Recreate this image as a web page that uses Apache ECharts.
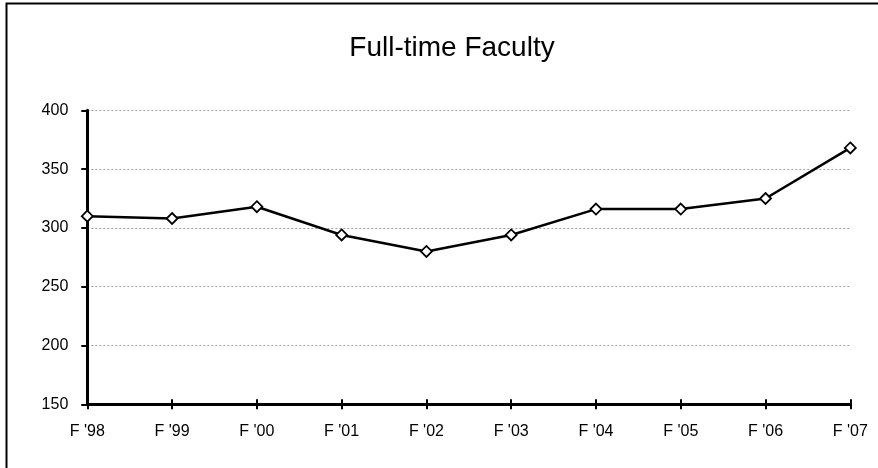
<!DOCTYPE html>
<html>
<head>
<meta charset="utf-8">
<script src="https://cdn.jsdelivr.net/npm/echarts@6/dist/echarts.min.js"></script>
<style>
  html, body { margin: 0; padding: 0; background: #fff; }
  #chart { width: 878px; height: 468px; }
</style>
</head>
<body>
<div id="chart"></div>
<script>
// Fall headcount of full-time faculty, 1998-2007
const years = ["F '98", "F '99", "F '00", "F '01", "F '02", "F '03", "F '04", "F '05", "F '06", "F '07"];
const faculty = [310, 308, 318, 294, 280, 294, 316, 316, 325, 368];
const yMin = 150;
const yMax = 400;
const yStep = 50;

const font = "'Liberation Sans', Arial, sans-serif";
const chart = echarts.init(document.getElementById('chart'));

chart.setOption({
  animation: false,
  backgroundColor: '#fff',
  title: {
    text: 'Full-time Faculty',
    left: 447,
    textAlign: 'center',
    top: 29,
    textStyle: { fontFamily: font, fontSize: 28, fontWeight: 'normal', color: '#000' }
  },
  graphic: [{
    type: 'rect',
    shape: { x: 6.5, y: 3.5, width: 1000, height: 600 },
    style: { fill: 'none', stroke: '#000', lineWidth: 2 },
    silent: true,
    z: 0
  }],
  grid: { left: 87.3, right: 27.7, top: 110.3, bottom: 63.7 },
  xAxis: [{
    type: 'category',
    data: years,
    boundaryGap: false,
    position: 'bottom',
    axisLine: { lineStyle: { color: '#000', width: 3 } },
    axisTick: { alignWithLabel: true, length: 5, lineStyle: { color: '#000', width: 2 } },
    axisLabel: { fontFamily: font, fontSize: 16, color: '#000', margin: 19 },
    splitLine: { show: false }
  }, {
    // inward half of the crossing tick marks
    type: 'category',
    data: years,
    boundaryGap: false,
    position: 'bottom',
    axisLine: { show: false },
    axisTick: { inside: true, length: 5, lineStyle: { color: '#000', width: 2 } },
    axisLabel: { show: false },
    splitLine: { show: false }
  }],
  yAxis: {
    type: 'value',
    min: yMin,
    max: yMax,
    interval: yStep,
    axisLine: { show: true, lineStyle: { color: '#000', width: 3 } },
    axisTick: { show: true, length: 6, lineStyle: { color: '#000', width: 2 } },
    axisLabel: { fontFamily: font, fontSize: 16, color: '#000', margin: 19 },
    splitLine: { show: true, lineStyle: { color: '#a0a0a0', width: 1, type: [2, 2] } }
  },
  series: [{
    type: 'line',
    data: faculty,
    symbol: 'diamond',
    symbolSize: 11,
    lineStyle: { color: '#000', width: 2.5 },
    itemStyle: { color: '#fff', borderColor: '#000', borderWidth: 1.8 },
    z: 5
  }]
});
</script>
</body>
</html>
